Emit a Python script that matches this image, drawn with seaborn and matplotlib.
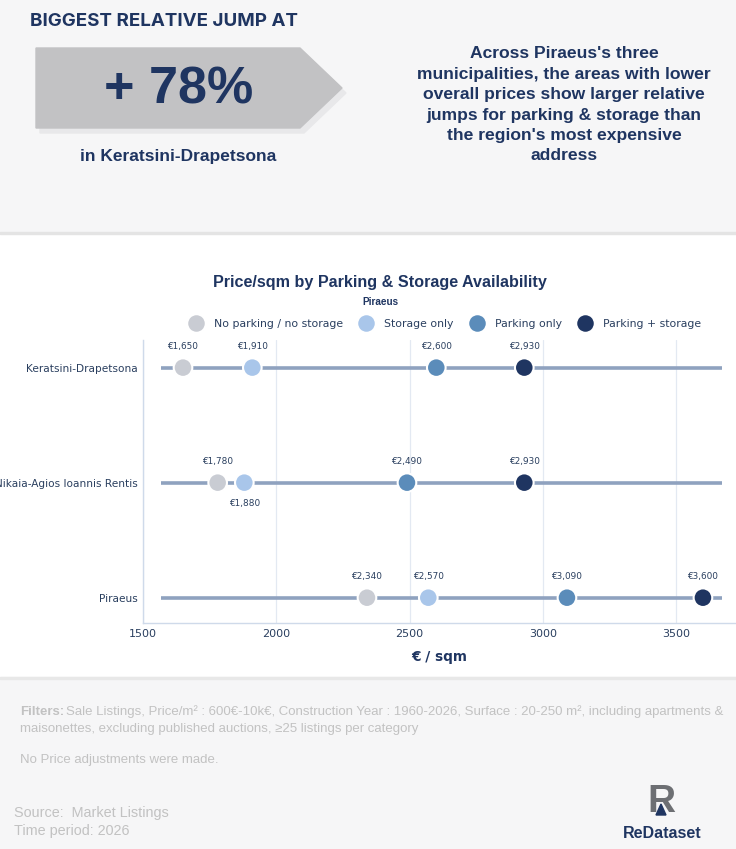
import pandas as pd
import seaborn as sns
import matplotlib.pyplot as plt
from matplotlib import patches

# === data ===
areas = ["Keratsini-Drapetsona", "Nikaia-Agios Ioannis Rentis", "Piraeus"]
categories = ["No parking / no storage", "Storage only", "Parking only", "Parking + storage"]
no_parking = [1650, 1780, 2340]
storage_only = [1910, 1880, 2570]
parking_only = [2600, 2490, 3090]
parking_storage = [2930, 2930, 3600]
colors = ["#c9ccd3", "#a9c6ea", "#5b8cba", "#1f3561"]
x_ticks = [1500, 2000, 2500, 3000, 3500]
labels_below = [("Nikaia-Agios Ioannis Rentis", "Storage only")]

rows = []
for cat, vals in zip(categories, [no_parking, storage_only, parking_only, parking_storage]):
    for area, v in zip(areas, vals):
        rows.append({"area": area, "category": cat, "price": v})
df = pd.DataFrame(rows)

NAVY = "#1f3561"
W, H = 736, 849

sns.set_theme(style="white")
plt.rcParams['font.family'] = ['DejaVu Sans']

fig = plt.figure(figsize=(W / 100, H / 100), dpi=100)
fig.patch.set_facecolor("white")


def fx(px):
    return px / W


def fy(py):
    return 1 - py / H


# header / footer backgrounds
BG = "#f6f6f7"
fig.patches.append(patches.Rectangle((0, fy(233)), 1, 233 / H, transform=fig.transFigure,
                                     color=BG, zorder=0))
fig.patches.append(patches.Rectangle((0, fy(234)), 1, 2 / H, transform=fig.transFigure,
                                     color="#e4e4e4", zorder=0))
fig.patches.append(patches.Rectangle((0, 0), 1, (H - 677) / H, transform=fig.transFigure,
                                     color=BG, zorder=0))
fig.patches.append(patches.Rectangle((0, fy(679)), 1, 2 / H, transform=fig.transFigure,
                                     color="#e8e8e8", zorder=0))

# === header ===
fig.text(fx(30), fy(21), "BIGGEST RELATIVE JUMP AT", fontsize=13.5, fontweight="bold",
         color=NAVY, family="Inter", va="center")
shadow = [(40, 53), (304, 53), (346, 93), (304, 133), (40, 133)]
fig.patches.append(patches.Polygon([(fx(a), fy(b)) for a, b in shadow], closed=True,
                                   transform=fig.transFigure, color="#e8e8ea", zorder=1))
arrow = [(36, 48), (300, 48), (342, 88), (300, 128), (36, 128)]
fig.patches.append(patches.Polygon([(fx(a), fy(b)) for a, b in arrow], closed=True,
                                   transform=fig.transFigure, color="#c2c2c4", zorder=2))
fig.text(fx(179), fy(90), "+ 78%", fontsize=37.5, fontweight="bold", color=NAVY,
         family="Liberation Sans", ha="center", va="center", zorder=3)
fig.text(fx(178), fy(156), "in Keratsini-Drapetsona", fontsize=12.5, fontweight="bold",
         color=NAVY, family="Liberation Sans", ha="center", va="center")
fig.text(fx(564), fy(105),
         "Across Piraeus's three\nmunicipalities, the areas with lower\noverall prices show larger relative\n"
         "jumps for parking & storage than\nthe region's most expensive\naddress",
         fontsize=12.6, fontweight="bold", color=NAVY, family="Liberation Sans",
         ha="center", va="center", linespacing=1.45)

# === chart ===
ax = fig.add_axes([fx(143), fy(623), fx(736 - 143), (623 - 340) / H])
ax.set_facecolor("white")

all_vals = df["price"]
lo, hi = all_vals.min() * 0.95, all_vals.max() * 1.02
ax.hlines(range(len(areas)), lo, hi, color="#8fa2bf", lw=2.6, zorder=1)

sns.scatterplot(data=df, x="price", y="area", hue="category", hue_order=categories,
                palette=colors, s=180, edgecolor="white", linewidth=1.5, zorder=3, ax=ax)

for _, r in df.iterrows():
    yi = areas.index(r["area"])
    below = (r["area"], r["category"]) in labels_below
    ax.annotate(f"€{r['price']:,}", (r["price"], yi), xytext=(0, -15 if below else 15),
                textcoords="offset points", ha="center", va="center",
                fontsize=6.4, color="#2a3f5f")

ax.set_xlim(1500, 3724)
ax.set_ylim(2.22, -0.24)
ax.set_xticks(x_ticks)
ax.set_xticklabels([str(t) for t in x_ticks], fontsize=8, color="#2a3f5f")
ax.tick_params(axis="y", labelsize=7.6, labelcolor="#2a3f5f", length=0, pad=4)
ax.tick_params(axis="x", length=0, pad=4)
ax.grid(axis="x", color="#e3e9f2", lw=0.9, zorder=0)
ax.set_axisbelow(True)
for side in ["top", "right"]:
    ax.spines[side].set_visible(False)
for side in ["left", "bottom"]:
    ax.spines[side].set_color("#cfdaea")
    ax.spines[side].set_linewidth(1.0)
ax.set_ylabel("")
ax.set_xlabel("€ / sqm", fontsize=9.8, fontweight="bold", color=NAVY, labelpad=8)

sns.move_legend(ax, "center", bbox_to_anchor=(0.506, 1.058), ncol=4, frameon=False,
                title=None, fontsize=7.8, columnspacing=1.1,
                handletextpad=0.7, markerscale=1.0)
leg = ax.get_legend()
for t in leg.get_texts():
    t.set_color("#2a3f5f")

fig.text(fx(380), fy(283), "Price/sqm by Parking & Storage Availability", fontsize=11.6,
         fontweight="bold", color=NAVY, family="Liberation Sans", ha="center", va="center")
fig.text(fx(380), fy(302), "Piraeus", fontsize=7.2, fontweight="bold", color=NAVY,
         family="Liberation Sans", ha="center", va="center")

# === footer ===
GRAY = "#c2c2c2"
fig.text(fx(20), fy(712), "Filters:", fontsize=9.5, fontweight="bold", color=GRAY,
         family="Liberation Sans", va="center")
fig.text(fx(66), fy(712), "Sale Listings, Price/m² : 600€-10k€, Construction Year : 1960-2026, "
         "Surface : 20-250 m², including apartments &", fontsize=9.5, color=GRAY,
         family="Liberation Sans", va="center")
fig.text(fx(20), fy(729), "maisonettes, excluding published auctions, ≥25 listings per category",
         fontsize=9.5, color=GRAY, family="Liberation Sans", va="center")
fig.text(fx(20), fy(760), "No Price adjustments were made.", fontsize=9.5, color=GRAY,
         family="Liberation Sans", va="center")
fig.text(fx(14), fy(813), "Source:  Market Listings", fontsize=10.4, color=GRAY,
         family="Liberation Sans", va="center")
fig.text(fx(14), fy(831), "Time period: 2026", fontsize=10.4, color=GRAY,
         family="Liberation Sans", va="center")

# logo
fig.text(fx(661), fy(802), "R", fontsize=28, fontweight="bold", color="#6d6f73",
         family="Liberation Sans", ha="center", va="center")
tri = [(656, 815), (661, 804), (666, 815)]
fig.patches.append(patches.Polygon([(fx(a), fy(b)) for a, b in tri], closed=True,
                                   transform=fig.transFigure, color=NAVY, zorder=5))
fig.text(fx(662), fy(834), "ReDataset", fontsize=11.5, fontweight="bold", color=NAVY,
         family="Liberation Sans", ha="center", va="center")

fig.savefig("out.png", dpi=100, facecolor=fig.get_facecolor())
